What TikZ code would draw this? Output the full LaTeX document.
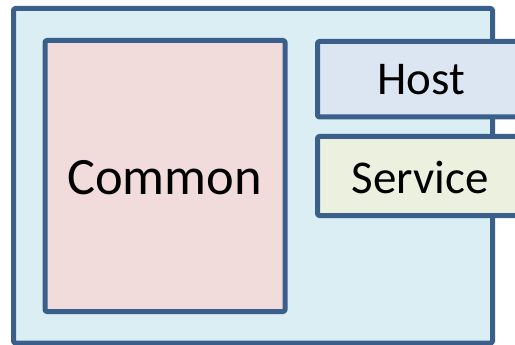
\documentclass[tikz,border=0pt]{standalone}
\usepackage{fontspec}
\setmainfont{Carlito}
\definecolor{edge}{HTML}{3A5F8B}
\definecolor{outerfill}{HTML}{DBEEF4}
\definecolor{commonfill}{HTML}{F2DCDB}
\definecolor{hostfill}{HTML}{DCE6F2}
\definecolor{servicefill}{HTML}{EBF1DE}
\begin{document}
\begin{tikzpicture}[x=1pt,y=-1pt,
  box/.style={draw=edge,line width=5pt,line join=round,rounded corners=1.5pt},
  lbl/.style={font=\fontsize{47}{50}\selectfont,text=black},
  biglbl/.style={font=\fontsize{52.5}{56}\selectfont,text=black}]
\useasboundingbox (0,0) rectangle (515,345);
\clip (0,0) rectangle (515,345);
\draw[box,fill=outerfill] (13.5,8.5) rectangle (492.5,343);
\draw[box,fill=commonfill] (45,40.5) rectangle (285,311.5);
\node[biglbl] (common) at (164.5,178) {Common};
\draw[box,fill=hostfill] (317.5,41.5) rectangle (526,117);
\node[lbl] (host) at (421,80) {Host};
\draw[box,fill=servicefill] (317.5,136.5) rectangle (526,215.5);
\node[lbl] (service) at (420,177) {Service};
\end{tikzpicture}
\end{document}
